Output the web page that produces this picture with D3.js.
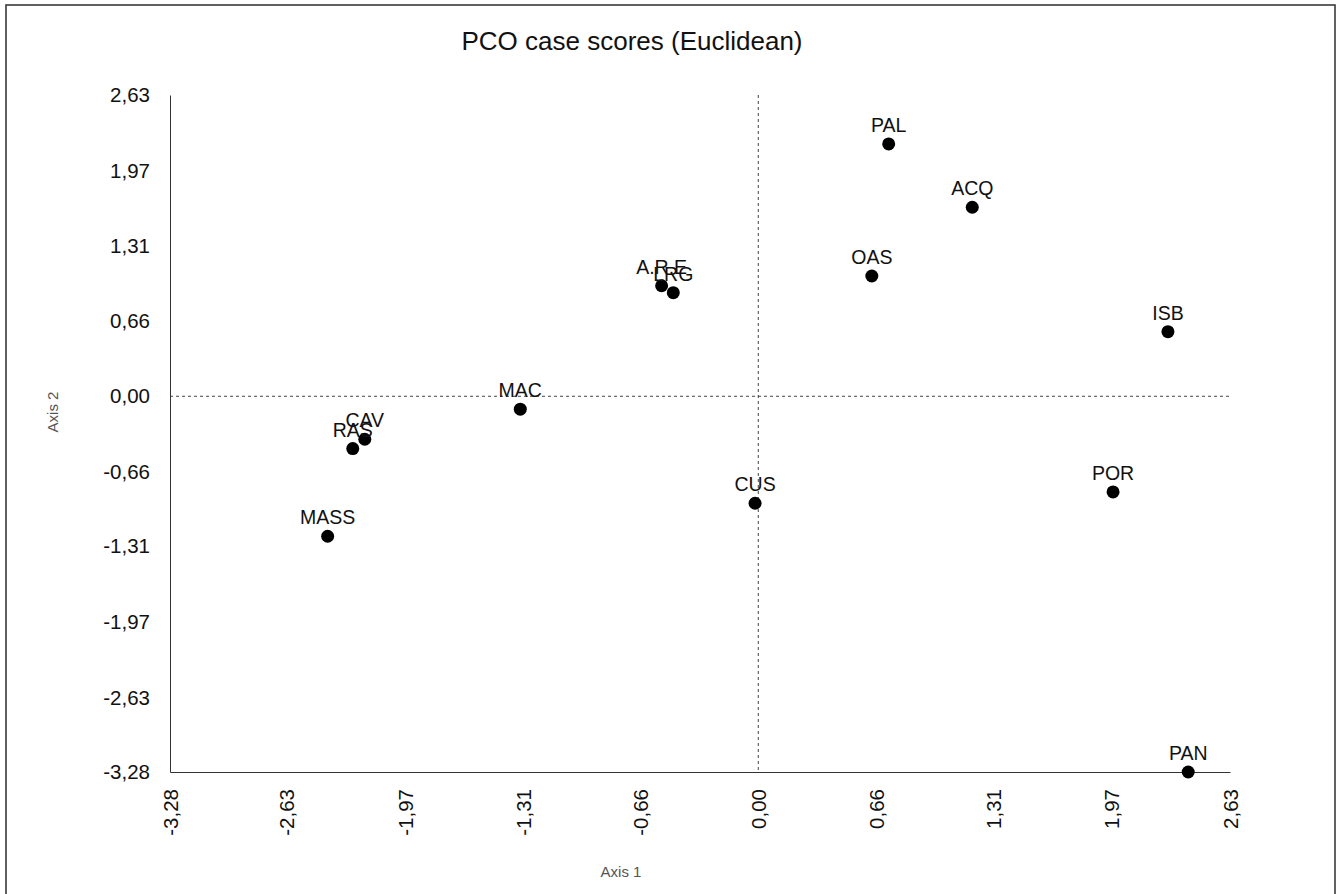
<!DOCTYPE html>
<html>
<head>
<meta charset="utf-8">
<script src="https://cdn.jsdelivr.net/npm/d3@7/dist/d3.min.js"></script>
<style>
  html, body { margin: 0; padding: 0; background: #fff; }
  svg { display: block; font-family: "Liberation Sans", Arial, sans-serif; }
</style>
</head>
<body>
<svg id="chart" width="1338" height="894"></svg>
<script>
const caseLabels = ["PAL","ACQ","OAS","ISB","A.R.E","LRG","MAC","CAV","RAS","MASS","CUS","POR","PAN"];
const axis1Scores = [0.727, 1.193, 0.633, 2.284, -0.539, -0.474, -1.327, -2.194, -2.261, -2.401, -0.018, 1.978, 2.397];
const axis2Scores = [2.203, 1.650, 1.050, 0.564, 0.965, 0.904, -0.113, -0.375, -0.457, -1.222, -0.934, -0.835, -3.280];
const tickValues = [-3.28, -2.63, -1.97, -1.31, -0.66, 0.00, 0.66, 1.31, 1.97, 2.63];
const tickLabels = ["-3,28","-2,63","-1,97","-1,31","-0,66","0,00","0,66","1,31","1,97","2,63"];
const titleText = "PCO case scores (Euclidean)";
const xTitle = "Axis 1";
const yTitle = "Axis 2";

(function () {
const svg = d3.select("#chart");
const pL = 170, pR = 1230, pT = 95, pB = 772;

const x = d3.scaleLinear().domain([-3.28, 2.63]).range([pL, pR]);
const y = d3.scaleLinear().domain([-3.28, 2.63]).range([pB, pT]);

// outer frame (bottom edge runs below the picture)
svg.append("rect")
  .attr("x", 6).attr("y", 5).attr("width", 1329).attr("height", 910)
  .attr("fill", "none").attr("stroke", "#3a3a3a").attr("stroke-width", 1.6);

// title
svg.append("text")
  .attr("x", 632).attr("y", 50)
  .attr("text-anchor", "middle")
  .attr("font-size", 26).attr("fill", "#111")
  .text(titleText);

// zero reference lines
svg.append("line")
  .attr("x1", x(0)).attr("x2", x(0)).attr("y1", pT).attr("y2", pB)
  .attr("stroke", "#444").attr("stroke-width", 1).attr("stroke-dasharray", "3,3");
svg.append("line")
  .attr("x1", pL).attr("x2", pR).attr("y1", y(0)).attr("y2", y(0))
  .attr("stroke", "#444").attr("stroke-width", 1).attr("stroke-dasharray", "3,3");

const fmt = d => tickLabels[tickValues.indexOf(d)];

// y axis
const gy = svg.append("g")
  .attr("transform", `translate(${pL},0)`)
  .call(d3.axisLeft(y).tickValues(tickValues).tickFormat(fmt).tickSize(0).tickPadding(20));
gy.select(".domain").attr("stroke", "#333");
gy.selectAll("text")
  .attr("font-size", 20.5).attr("fill", "#111")
  .attr("font-family", "Liberation Sans, Arial, sans-serif");

// x axis
const gx = svg.append("g")
  .attr("transform", `translate(0,${pB})`)
  .call(d3.axisBottom(x).tickValues(tickValues).tickFormat(fmt).tickSize(0).tickPadding(0));
gx.select(".domain").attr("stroke", "#333");
gx.selectAll("text")
  .attr("font-size", 20.5).attr("fill", "#111")
  .attr("font-family", "Liberation Sans, Arial, sans-serif")
  .attr("transform", "translate(0,17) rotate(-90)")
  .attr("x", 0).attr("y", 0).attr("dy", "0.35em")
  .attr("text-anchor", "end");

// axis titles
svg.append("text")
  .attr("x", 621).attr("y", 877)
  .attr("text-anchor", "middle")
  .attr("font-size", 15).attr("fill", "#555")
  .text(xTitle);
svg.append("text")
  .attr("transform", "translate(58,412) rotate(-90)")
  .attr("text-anchor", "middle")
  .attr("font-size", 15).attr("fill", "#555")
  .text(yTitle);

// points (overlapping labels reproduce the reference)
const data = caseLabels.map((c, i) => ({ c, a: axis1Scores[i], b: axis2Scores[i] }));
const g = svg.append("g");
g.selectAll("circle").data(data).enter().append("circle")
  .attr("cx", d => x(d.a)).attr("cy", d => y(d.b)).attr("r", 6.5)
  .attr("fill", "#000");
g.selectAll("text.lbl").data(data).enter().append("text")
  .attr("class", "lbl")
  .attr("x", d => x(d.a)).attr("y", d => y(d.b) - 12)
  .attr("text-anchor", "middle")
  .attr("font-size", 19.5).attr("fill", "#111")
  .text(d => d.c);
})();
</script>
</body>
</html>
